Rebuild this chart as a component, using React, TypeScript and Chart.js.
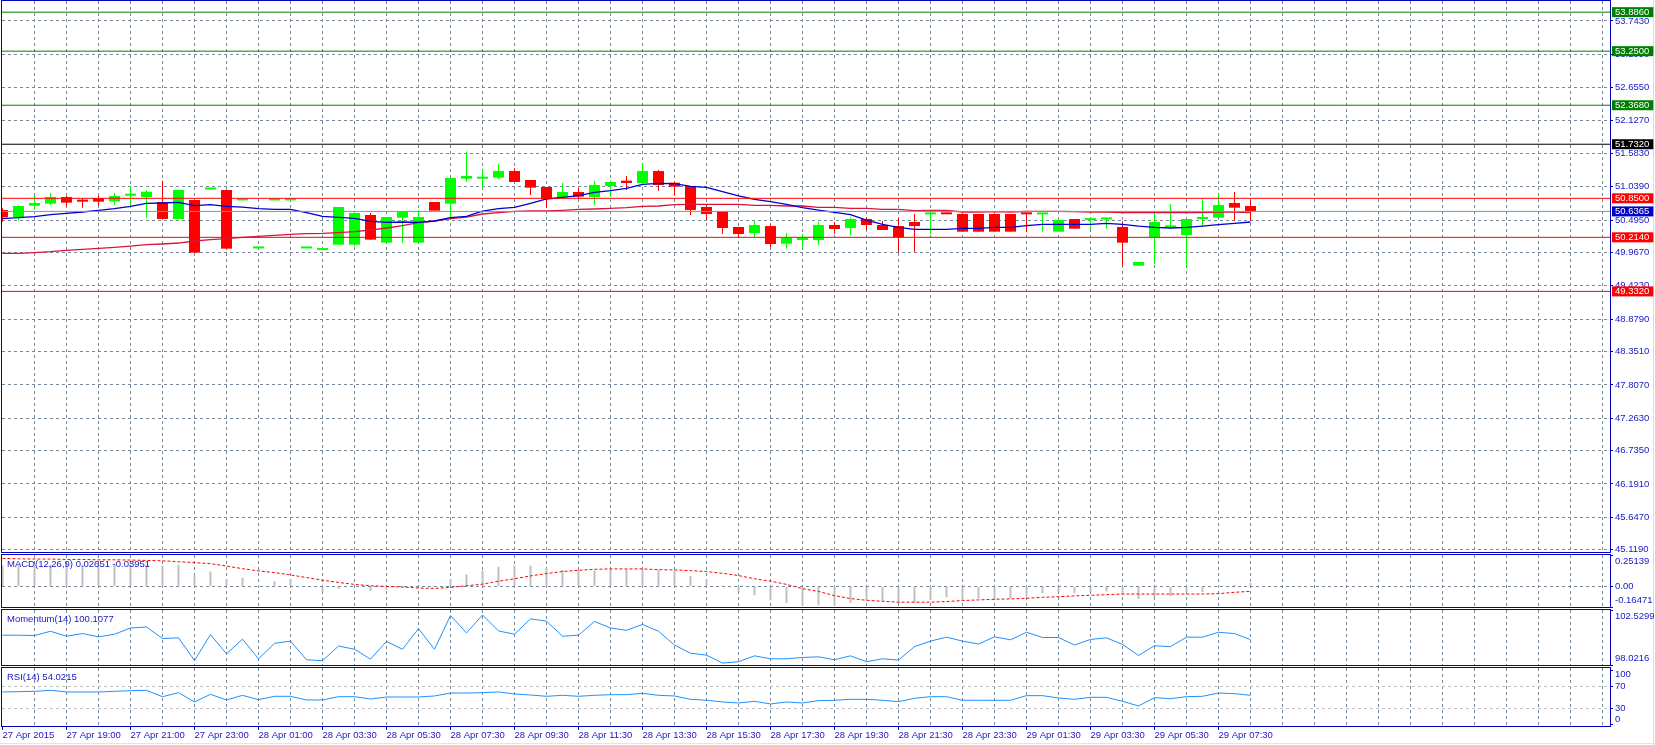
import React, { useEffect, useRef } from 'react';
import { Chart, registerables } from 'chart.js';

Chart.register(...registerables);

// ---------------- data ----------------
const TIME_LABELS = [
  '27 Apr 2015', '27 Apr 19:00', '27 Apr 21:00', '27 Apr 23:00', '28 Apr 01:00',
  '28 Apr 03:30', '28 Apr 05:30', '28 Apr 07:30', '28 Apr 09:30', '28 Apr 11:30',
  '28 Apr 13:30', '28 Apr 15:30', '28 Apr 17:30', '28 Apr 19:30', '28 Apr 21:30',
  '28 Apr 23:30', '29 Apr 01:30', '29 Apr 03:30', '29 Apr 05:30', '29 Apr 07:30',
];

const OPEN = [
  50.659, 50.545, 50.730, 50.763, 50.871, 50.823, 50.850, 50.801, 50.893, 50.871,
  50.790, 50.513, 50.823, 50.994, 50.986, 50.816, 50.033, 50.816, 50.816, 50.033,
  50.006, 50.094, 50.094, 50.578, 50.127, 50.534, 50.127, 50.790, 50.763, 51.170,
  51.170, 51.187, 51.295, 51.149, 51.035, 50.861, 50.953, 50.871, 51.051, 51.138,
  51.100, 51.295, 51.105, 51.051, 50.708, 50.643, 50.382, 50.284, 50.398, 50.110,
  50.170, 50.170, 50.415, 50.366, 50.513, 50.415, 50.398, 50.464, 50.588, 50.590,
  50.594, 50.594, 50.594, 50.594, 50.590, 50.588, 50.306, 50.513, 50.495, 50.506,
  50.382, 49.752, 50.219, 50.376, 50.252, 50.513, 50.534, 50.774, 50.725,
];
const HIGH = [
  50.687, 50.741, 50.888, 50.937, 50.888, 50.844, 50.888, 50.937, 51.051, 50.986,
  51.138, 50.986, 50.823, 50.996, 50.986, 50.817, 50.034, 50.817, 50.817, 50.034,
  50.007, 50.708, 50.632, 50.611, 50.545, 50.632, 50.659, 50.790, 51.181, 51.605,
  51.312, 51.410, 51.339, 51.149, 51.035, 51.105, 51.018, 51.138, 51.138, 51.214,
  51.410, 51.312, 51.116, 51.051, 50.741, 50.643, 50.382, 50.480, 50.426, 50.284,
  50.268, 50.464, 50.464, 50.540, 50.540, 50.480, 50.529, 50.594, 50.589, 50.590,
  50.594, 50.594, 50.594, 50.594, 50.590, 50.589, 50.513, 50.513, 50.496, 50.507,
  50.475, 49.811, 50.594, 50.757, 50.513, 50.833, 50.920, 50.953, 50.823,
];
const LOW = [
  50.469, 50.485, 50.659, 50.741, 50.714, 50.697, 50.730, 50.741, 50.741, 50.534,
  50.513, 50.513, 49.964, 50.994, 50.029, 50.816, 50.033, 50.816, 50.816, 50.033,
  50.006, 50.094, 50.072, 50.170, 50.127, 50.127, 50.127, 50.649, 50.540, 51.121,
  51.040, 51.165, 51.116, 50.904, 50.692, 50.861, 50.833, 50.741, 50.877, 50.986,
  51.100, 50.975, 50.904, 50.578, 50.496, 50.268, 50.208, 50.214, 50.056, 50.029,
  50.061, 50.089, 50.268, 50.252, 50.333, 50.333, 49.975, 49.975, 50.268, 50.589,
  50.306, 50.306, 50.306, 50.306, 50.306, 50.306, 50.306, 50.355, 50.355, 50.355,
  49.752, 49.752, 49.773, 50.360, 49.730, 50.404, 50.534, 50.485, 50.485,
];
const CLOSE = [
  50.540, 50.725, 50.774, 50.871, 50.779, 50.795, 50.795, 50.888, 50.909, 50.958,
  50.513, 50.986, 49.964, 50.996, 50.029, 50.817, 50.034, 50.817, 50.817, 50.034,
  50.007, 50.708, 50.611, 50.176, 50.545, 50.632, 50.545, 50.649, 51.181, 51.214,
  51.198, 51.295, 51.116, 51.024, 50.844, 50.953, 50.877, 51.067, 51.116, 51.100,
  51.295, 51.067, 51.040, 50.659, 50.594, 50.366, 50.268, 50.415, 50.105, 50.203,
  50.208, 50.415, 50.350, 50.513, 50.415, 50.333, 50.214, 50.398, 50.589, 50.589,
  50.306, 50.306, 50.306, 50.306, 50.589, 50.589, 50.496, 50.355, 50.496, 50.507,
  50.127, 49.811, 50.464, 50.377, 50.513, 50.545, 50.741, 50.697, 50.6365,
];

const MA_FAST = [
  50.518, 50.534, 50.551, 50.583, 50.605, 50.627, 50.654, 50.681, 50.719, 50.768,
  50.774, 50.784, 50.730, 50.746, 50.719, 50.708, 50.681, 50.670, 50.670, 50.616,
  50.556, 50.540, 50.524, 50.475, 50.458, 50.464, 50.458, 50.480, 50.534, 50.556,
  50.643, 50.681, 50.703, 50.768, 50.839, 50.866, 50.893, 50.948, 50.975, 51.013,
  51.078, 51.094, 51.089, 51.045, 51.029, 50.958, 50.888, 50.833, 50.795, 50.752,
  50.697, 50.659, 50.621, 50.583, 50.496, 50.426, 50.377, 50.344, 50.344, 50.344,
  50.360, 50.360, 50.377, 50.377, 50.404, 50.426, 50.426, 50.426, 50.426, 50.442,
  50.426, 50.398, 50.377, 50.366, 50.377, 50.398, 50.420, 50.442, 50.464,
];
const MA_SLOW = [
  49.953, 49.953, 49.964, 49.980, 50.002, 50.018, 50.034, 50.051, 50.072, 50.094,
  50.105, 50.121, 50.154, 50.176, 50.192, 50.214, 50.230, 50.246, 50.263, 50.274,
  50.279, 50.290, 50.306, 50.333, 50.366, 50.404, 50.453, 50.480, 50.518, 50.545,
  50.594, 50.616, 50.638, 50.643, 50.643, 50.654, 50.670, 50.676, 50.687, 50.697,
  50.719, 50.725, 50.746, 50.752, 50.752, 50.752, 50.752, 50.736, 50.736, 50.725,
  50.725, 50.703, 50.703, 50.687, 50.687, 50.670, 50.670, 50.649, 50.654, 50.654,
  50.627, 50.627, 50.632, 50.627, 50.638, 50.638, 50.638, 50.632, 50.627, 50.627,
  50.616, 50.616, 50.616, 50.616, 50.616, 50.616, 50.627, 50.627, 50.616,
];

const MACD_MAIN = [
  0.168, 0.172, 0.170, 0.174, 0.171, 0.173, 0.170, 0.172, 0.175, 0.174,
  0.166, 0.172, 0.092, 0.119, 0.058, 0.071, 0.008, 0.040, 0.058, 0.002,
  -0.045, -0.018, -0.003, -0.037, -0.026, -0.008, -0.005, 0.005, 0.058, 0.095,
  0.126, 0.158, 0.166, 0.166, 0.150, 0.132, 0.132, 0.126, 0.132, 0.137,
  0.137, 0.132, 0.126, 0.084, 0.053, 0.005, -0.042, -0.071, -0.111, -0.132,
  -0.150, -0.150, -0.150, -0.132, -0.111, -0.119, -0.132, -0.126, -0.105, -0.087,
  -0.105, -0.097, -0.105, -0.097, -0.079, -0.053, -0.045, -0.053, -0.045, -0.040,
  -0.066, -0.100, -0.084, -0.079, -0.045, -0.045, -0.013, 0.013, 0.02651,
];
const MACD_SIGNAL = [
  0.224, 0.221, 0.219, 0.219, 0.216, 0.216, 0.213, 0.213, 0.211, 0.208,
  0.205, 0.198, 0.190, 0.182, 0.163, 0.142, 0.124, 0.111, 0.092, 0.071,
  0.050, 0.032, 0.016, 0.005, 0.000, -0.005, -0.013, -0.016, -0.008, 0.005,
  0.018, 0.042, 0.061, 0.084, 0.103, 0.119, 0.129, 0.137, 0.140, 0.140,
  0.140, 0.134, 0.132, 0.126, 0.119, 0.105, 0.087, 0.061, 0.042, 0.016,
  -0.018, -0.040, -0.074, -0.097, -0.111, -0.119, -0.126, -0.126, -0.126, -0.121,
  -0.113, -0.108, -0.103, -0.100, -0.095, -0.087, -0.082, -0.076, -0.071, -0.066,
  -0.061, -0.061, -0.061, -0.061, -0.061, -0.061, -0.058, -0.047, -0.03951,
];

const MOMENTUM = [
  100.464, 100.464, 100.437, 100.786, 100.383, 100.598, 100.329, 100.544, 101.054, 101.134,
  100.195, 100.249, 98.397, 100.517, 98.934, 100.142, 98.531, 99.793, 99.980, 98.451,
  98.370, 99.578, 99.310, 98.504, 99.954, 99.310, 101.000, 99.310, 102.074, 100.651,
  102.127, 100.812, 100.544, 101.805, 101.617, 100.383, 100.464, 101.591, 101.054, 100.866,
  101.349, 100.786, 99.658, 98.988, 98.827, 98.183, 98.290, 98.773, 98.531, 98.531,
  98.639, 98.692, 98.451, 98.773, 98.290, 98.531, 98.424, 99.524, 99.980, 100.303,
  99.980, 99.739, 100.329, 100.088, 100.705, 100.276, 100.276, 99.658, 100.115, 100.249,
  99.712, 98.800, 99.605, 99.524, 100.303, 100.303, 100.705, 100.598, 100.1077,
];
const RSI = [
  60.2, 60.8, 61.4, 63.2, 60.2, 60.2, 60.2, 61.4, 62.6, 63.2,
  51.5, 58.9, 41.7, 55.8, 45.4, 54.0, 46.0, 52.2, 52.2, 45.4,
  45.4, 51.5, 51.5, 47.2, 50.9, 50.9, 50.9, 52.8, 58.3, 58.3,
  58.9, 60.2, 56.5, 54.6, 52.2, 54.0, 52.2, 54.0, 55.2, 55.2,
  57.7, 54.0, 52.8, 46.6, 44.8, 41.7, 39.8, 42.9, 38.0, 41.7,
  39.8, 44.2, 44.8, 46.6, 46.6, 44.8, 42.3, 48.5, 51.5, 51.5,
  44.8, 44.8, 44.8, 44.8, 53.4, 53.4, 49.1, 46.6, 50.3, 50.3,
  42.9, 34.3, 49.7, 47.8, 51.5, 52.2, 58.3, 57.1, 54.0215,
];

const PRICE_TICKS = [
  53.743, 53.199, 52.655, 52.127, 51.583, 51.039, 50.495, 49.967, 49.423,
  48.879, 48.351, 47.807, 47.263, 46.735, 46.191, 45.647, 45.119,
];
const LEVELS = [53.886, 53.25, 52.368, 51.732, 50.85, 50.6365, 50.214, 49.332];
const MACD_TICKS = [0.25139, 0, -0.16471];
const MOMENTUM_TICKS = [102.5299, 98.0216];
const RSI_TICKS = [100, 70, 30, 0];
const RSI_LEVELS = [70, 30];

// ---------------- styles ----------------
const W = 1655;
const AXIS_W = 45;
const FONT = '"Liberation Sans", Arial, sans-serif';
const FONT_SIZE = 9.5;
const TEXT = '#1717c9';
const FRAME = '#0000c0';
const GRID = '#778899';
const NONE = 'rgba(0,0,0,0)';
const BULL = '#00ff00';
const BEAR = '#ff0000';
const LEVEL_STYLE = [
  { line: '#008000', box: '#008000' },
  { line: '#008000', box: '#008000' },
  { line: '#008000', box: '#008000' },
  { line: '#000000', box: '#000000' },
  { line: '#ff0000', box: '#ff0000' },
  { line: '#8593a1', box: '#0000cd' },
  { line: '#ff0000', box: '#ff0000' },
  { line: '#ff0000', box: '#ff0000' },
];
const X_MIN = -0.03125;
const X_MAX = 100.46875;

Chart.defaults.font.family = FONT;

const X_TICKS: number[] = [];
for (let v = 0; v <= 100; v += 2) X_TICKS.push(v);

function timeLabel(v: number): string {
  if (v % 4 !== 0) return '';
  const i = v / 4;
  return i < TIME_LABELS.length ? TIME_LABELS[i] : '';
}

function noPad(s: any) {
  s.paddingTop = 0;
  s.paddingBottom = 0;
  s.paddingLeft = 0;
  s.paddingRight = 0;
}

const framePlugin = {
  id: 'paneFrame',
  afterDraw(chart: any) {
    const { ctx, chartArea: a } = chart;
    ctx.save();
    ctx.strokeStyle = FRAME;
    ctx.lineWidth = 1;
    ctx.setLineDash([]);
    ctx.strokeRect(a.left - 0.5, a.top - 0.5, a.right - a.left + 1, a.bottom - a.top + 1);
    ctx.restore();
  },
};

function xScale(withLabels: boolean) {
  return {
    type: 'linear',
    position: 'bottom',
    min: X_MIN,
    max: X_MAX,
    offset: false,
    afterBuildTicks: (s: any) => {
      s.ticks = X_TICKS.map((value) => ({ value }));
    },
    afterFit: (s: any) => {
      s.height = withLabels ? 19 : 0;
      noPad(s);
    },
    grid: {
      offset: false,
      color: (c: any) => (c.tick && c.tick.value === 0 ? NONE : GRID),
      lineWidth: 1,
      drawTicks: withLabels,
      tickLength: 4,
      tickWidth: 1,
      tickColor: (c: any) => (c.tick && timeLabel(c.tick.value) ? FRAME : NONE),
      tickBorderDash: [],
    },
    border: { display: false, dash: [3, 3] },
    ticks: {
      display: withLabels,
      autoSkip: false,
      maxRotation: 0,
      minRotation: 0,
      align: 'start',
      padding: 0,
      color: TEXT,
      font: { family: FONT, size: FONT_SIZE },
      callback: (v: any) => timeLabel(Number(v)),
    },
  };
}

function indicatorY(
  min: number,
  max: number,
  tickValues: number[],
  fmt: (v: number) => string,
  gridFor: (v: number) => string,
  shifts: Record<string, number>,
) {
  const shiftOf = (v: number) => shifts[String(v)] || 0;
  return {
    type: 'linear',
    position: 'right',
    min,
    max,
    afterBuildTicks: (s: any) => {
      s.ticks = tickValues.map((value) => ({ value }));
    },
    afterFit: (s: any) => {
      s.width = AXIS_W;
      noPad(s);
    },
    grid: {
      color: (c: any) => (c.tick ? gridFor(c.tick.value) : NONE),
      drawTicks: true,
      tickLength: 3,
      tickColor: FRAME,
      tickBorderDash: [],
    },
    border: { display: false, dash: [3, 3] },
    ticks: {
      autoSkip: false,
      padding: 2,
      color: TEXT,
      font: (c: any) => {
        const sh = c.tick ? Math.abs(shiftOf(c.tick.value)) : 0;
        return { family: FONT, size: FONT_SIZE, lineHeight: sh > 0 ? sh * 2 + 'px' : 1.2 };
      },
      callback: (v: any) => {
        const n = Number(v);
        const t = fmt(n);
        const sh = shiftOf(n);
        if (sh > 0) return ['', t];
        if (sh < 0) return [t, ''];
        return t;
      },
    },
  };
}

function baseOptions(padding: any, scales: any) {
  return {
    responsive: false,
    animation: false,
    events: [],
    devicePixelRatio: 1,
    layout: { padding },
    plugins: {
      legend: { display: false },
      tooltip: { enabled: false },
      title: { display: false },
    },
    scales,
  };
}

const IDX = OPEN.map((_, i) => i);
const CANDLE_COLORS = IDX.map((i) => (CLOSE[i] >= OPEN[i] ? BULL : BEAR));
const isLevel = (v: number) => LEVELS.indexOf(v) >= 0;

function mainConfig(): any {
  return {
    type: 'bar',
    data: {
      datasets: [
        {
          type: 'bar',
          label: 'wick',
          data: IDX.map((i) => ({ x: i, y: [LOW[i], HIGH[i]] })),
          backgroundColor: CANDLE_COLORS,
          barThickness: 1,
          grouped: false,
          inflateAmount: 0,
          borderWidth: 0,
          order: 10,
        },
        {
          type: 'bar',
          label: 'body',
          data: IDX.map((i) => ({ x: i, y: [OPEN[i], CLOSE[i]] })),
          backgroundColor: CANDLE_COLORS,
          barThickness: 11,
          minBarLength: 2,
          grouped: false,
          inflateAmount: 0,
          borderWidth: 0,
          order: 9,
        },
        {
          type: 'line',
          label: 'ma slow',
          data: IDX.map((i) => ({ x: i, y: MA_SLOW[i] })),
          borderColor: '#dc143c',
          borderWidth: 1.3,
          pointRadius: 0,
          tension: 0,
          order: 6,
        },
        {
          type: 'line',
          label: 'ma fast',
          data: IDX.map((i) => ({ x: i, y: MA_FAST[i] })),
          borderColor: '#0000cd',
          borderWidth: 1.3,
          pointRadius: 0,
          tension: 0,
          order: 5,
        },
        ...LEVELS.map((v, j) => ({
          type: 'line',
          label: 'level ' + v,
          data: [
            { x: X_MIN, y: v },
            { x: X_MAX, y: v },
          ],
          borderColor: LEVEL_STYLE[j].line,
          borderWidth: 1,
          pointRadius: 0,
          order: 1,
        })),
      ],
    },
    options: baseOptions(
      { left: 2, top: 1, bottom: 1, right: 0 },
      {
        x: xScale(false),
        y: {
          type: 'linear',
          position: 'right',
          min: 45.082,
          max: 54.068,
          afterBuildTicks: (s: any) => {
            s.ticks = PRICE_TICKS.concat(LEVELS).map((value) => ({ value }));
          },
          afterFit: (s: any) => {
            s.width = AXIS_W;
            noPad(s);
          },
          grid: {
            color: (c: any) => (c.tick && isLevel(c.tick.value) ? NONE : GRID),
            drawTicks: true,
            tickLength: 3,
            tickColor: (c: any) => (c.tick && isLevel(c.tick.value) ? NONE : FRAME),
            tickBorderDash: [],
          },
          border: { display: false, dash: [3, 3] },
          ticks: {
            autoSkip: false,
            padding: 2,
            color: (c: any) => (c.tick && isLevel(c.tick.value) ? '#ffffff' : TEXT),
            font: (c: any) =>
              c.tick && isLevel(c.tick.value)
                ? { family: FONT, size: FONT_SIZE, lineHeight: '10px' }
                : { family: FONT, size: FONT_SIZE },
            showLabelBackdrop: (c: any) => !!(c.tick && isLevel(c.tick.value)),
            backdropColor: (c: any) =>
              c.tick && isLevel(c.tick.value) ? LEVEL_STYLE[LEVELS.indexOf(c.tick.value)].box : NONE,
            backdropPadding: { top: 0, bottom: 0, left: 3, right: 4 },
            callback: (v: any) => Number(v).toFixed(4),
          },
        },
      },
    ),
    plugins: [framePlugin],
  };
}

function macdConfig(): any {
  return {
    type: 'bar',
    data: {
      datasets: [
        {
          type: 'bar',
          label: 'macd',
          data: IDX.map((i) => ({ x: i, y: MACD_MAIN[i] })),
          backgroundColor: '#c0c0c0',
          barThickness: 2,
          grouped: false,
          inflateAmount: 0,
          borderWidth: 0,
          order: 2,
        },
        {
          type: 'line',
          label: 'signal',
          data: IDX.map((i) => ({ x: i, y: MACD_SIGNAL[i] })),
          borderColor: '#ff0000',
          borderWidth: 1,
          borderDash: [3, 2],
          pointRadius: 0,
          tension: 0,
          order: 1,
        },
      ],
    },
    options: baseOptions(
      { left: 2, top: 2, bottom: 2, right: 0 },
      {
        x: xScale(false),
        y: indicatorY(
          MACD_TICKS[2],
          MACD_TICKS[0],
          MACD_TICKS,
          (v) => (v === 0 ? '0.00' : v.toFixed(5)),
          (v) => (v === 0 ? GRID : NONE),
          { [String(MACD_TICKS[0])]: 6, [String(MACD_TICKS[2])]: -7 },
        ),
      },
    ),
    plugins: [framePlugin],
  };
}

function momentumConfig(): any {
  return {
    type: 'line',
    data: {
      datasets: [
        {
          label: 'momentum',
          data: IDX.map((i) => ({ x: i, y: MOMENTUM[i] })),
          borderColor: '#1e90ff',
          borderWidth: 1,
          pointRadius: 0,
          tension: 0,
        },
      ],
    },
    options: baseOptions(
      { left: 2, top: 1, bottom: 1, right: 0 },
      {
        x: xScale(false),
        y: indicatorY(
          MOMENTUM_TICKS[1],
          MOMENTUM_TICKS[0],
          MOMENTUM_TICKS,
          (v) => v.toFixed(4),
          () => NONE,
          { [String(MOMENTUM_TICKS[0])]: 6, [String(MOMENTUM_TICKS[1])]: -7 },
        ),
      },
    ),
    plugins: [framePlugin],
  };
}

function rsiConfig(): any {
  return {
    type: 'line',
    data: {
      datasets: [
        {
          label: 'rsi',
          data: IDX.map((i) => ({ x: i, y: RSI[i] })),
          borderColor: '#1e90ff',
          borderWidth: 1,
          pointRadius: 0,
          tension: 0,
        },
      ],
    },
    options: baseOptions(
      { left: 2, top: 2, bottom: 0, right: 0 },
      {
        x: xScale(true),
        y: indicatorY(
          -2.8,
          104.6,
          RSI_TICKS,
          (v) => String(v),
          (v) => (RSI_LEVELS.indexOf(v) >= 0 ? '#c0c0c0' : NONE),
          { '100': 3.5, '0': -5.5 },
        ),
      },
    ),
    plugins: [framePlugin],
  };
}

function ChartPane({ top, height, build }: { top: number; height: number; build: () => any }) {
  const ref = useRef<HTMLCanvasElement | null>(null);
  useEffect(() => {
    if (!ref.current) return;
    const chart = new Chart(ref.current, build());
    return () => chart.destroy();
  }, []);
  return (
    <canvas
      ref={ref}
      width={W}
      height={height}
      style={{ position: 'absolute', left: 0, top, width: W, height, display: 'block' }}
    />
  );
}

const titleStyle = (top: number): React.CSSProperties => ({
  position: 'absolute',
  left: 7,
  top,
  fontFamily: FONT,
  fontSize: FONT_SIZE,
  lineHeight: '11px',
  color: TEXT,
  whiteSpace: 'nowrap',
  pointerEvents: 'none',
});

export default function App() {
  useEffect(() => {
    document.body.style.margin = '0';
  }, []);
  const last = MACD_MAIN.length - 1;
  return (
    <div
      style={{
        position: 'absolute',
        left: 0,
        top: 0,
        width: W,
        height: 745,
        background: '#ffffff',
        overflow: 'hidden',
      }}
    >
      <div style={{ position: 'absolute', left: 1653, top: 0, width: 1, height: 745, background: '#dcdcdc' }} />
      <div style={{ position: 'absolute', left: 0, top: 743, width: W, height: 1, background: '#e4e4e4' }} />
      <ChartPane top={0} height={553} build={mainConfig} />
      <ChartPane top={553} height={56} build={macdConfig} />
      <ChartPane top={609} height={57} build={momentumConfig} />
      <ChartPane top={666} height={79} build={rsiConfig} />
      <div style={titleStyle(558)}>
        {`MACD(12,26,9) ${MACD_MAIN[last].toFixed(5)} ${MACD_SIGNAL[last].toFixed(5)}`}
      </div>
      <div style={titleStyle(613)}>{`Momentum(14) ${MOMENTUM[last].toFixed(4)}`}</div>
      <div style={titleStyle(671)}>{`RSI(14) ${RSI[last].toFixed(4)}`}</div>
    </div>
  );
}
